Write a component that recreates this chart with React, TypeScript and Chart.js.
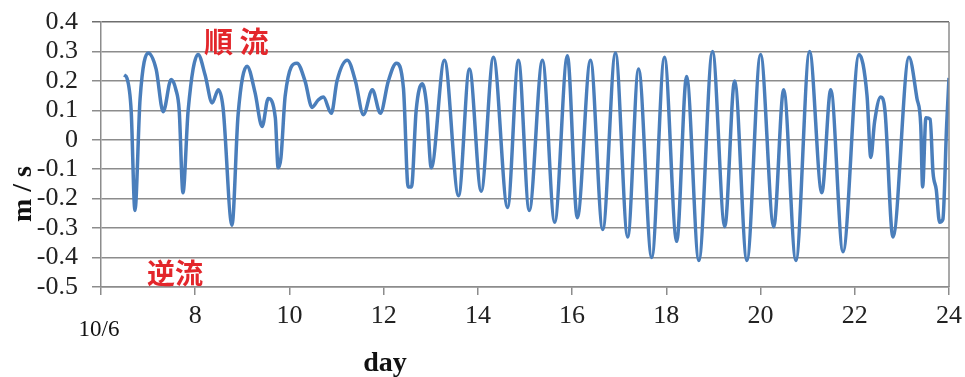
import React, { useEffect, useRef } from "react";
import { Chart, registerables } from "chart.js";

Chart.register(...registerables);

// Day of October (10/6 .. 10/24)
const days: number[] = [
  6.49, 6.55, 6.64, 6.72, 6.83, 7.0, 7.17, 7.32, 7.49, 7.59, 7.66, 7.74, 7.85,
  8.06, 8.21, 8.36, 8.49, 8.59, 8.78, 8.91, 9.1, 9.27, 9.42, 9.55, 9.7, 9.76,
  9.82, 9.91, 10.16, 10.33, 10.48, 10.61, 10.72, 10.89, 11.01, 11.23, 11.4,
  11.57, 11.76, 11.93, 12.1, 12.27, 12.42, 12.52, 12.59, 12.69, 12.82, 12.91,
  13.01, 13.29, 13.59, 13.82, 14.07, 14.33, 14.63, 14.86, 15.09, 15.37, 15.63,
  15.9, 16.11, 16.39, 16.65, 16.92, 17.18, 17.41, 17.69, 17.96, 18.22, 18.43,
  18.69, 18.98, 19.24, 19.45, 19.71, 20.0, 20.28, 20.49, 20.75, 21.04, 21.3,
  21.49, 21.75, 22.09, 22.26, 22.34, 22.42, 22.55, 22.64, 22.81, 23.15, 23.32,
  23.4, 23.44, 23.51, 23.6, 23.66, 23.73, 23.8, 23.87, 23.95, 24.0,
];

// Flow speed (m/s)
const speeds: number[] = [
  0.22, 0.21, 0.1, -0.24, 0.14, 0.295, 0.24, 0.095, 0.205, 0.17, 0.1, -0.18,
  0.1, 0.29, 0.22, 0.125, 0.17, 0.11, -0.29, 0.085, 0.25, 0.16, 0.045, 0.14,
  0.075, -0.095, -0.06, 0.15, 0.26, 0.2, 0.11, 0.135, 0.145, 0.09, 0.2, 0.27,
  0.2, 0.085, 0.17, 0.09, 0.2, 0.26, 0.175, -0.16, -0.16, 0.1, 0.19, 0.12,
  -0.095, 0.27, -0.19, 0.24, -0.175, 0.28, -0.23, 0.27, -0.24, 0.27, -0.28,
  0.285, -0.265, 0.27, -0.305, 0.295, -0.33, 0.24, -0.4, 0.28, -0.345, 0.215,
  -0.41, 0.3, -0.295, 0.2, -0.41, 0.29, -0.295, 0.17, -0.41, 0.3, -0.18, 0.17,
  -0.38, 0.29, 0.15, -0.06, 0.06, 0.145, 0.1, -0.33, 0.28, 0.14, 0.05, -0.16,
  0.075, 0.07, -0.11, -0.17, -0.28, -0.27, 0.05, 0.21,
];

const xTicks: number[] = [6, 8, 10, 12, 14, 16, 18, 20, 22, 24];
const yTicks: number[] = [-0.5, -0.4, -0.3, -0.2, -0.1, 0, 0.1, 0.2, 0.3, 0.4];
const yMin = -0.5;
const yMax = 0.4;

const startLabel = "10/6";
const xTitle = "day";
const yTitle = "m / s";
const forwardLabel = "順 流";
const reverseLabel = "逆流";

const SERIF = '"Liberation Serif", "DejaVu Serif", serif';
const CJK = '"Noto Sans CJK JP", "Noto Sans CJK SC", sans-serif';

export default function App() {
  const ref = useRef<HTMLCanvasElement | null>(null);

  useEffect(() => {
    if (!ref.current) return;
    const textPlugin = {
      id: "texts",
      afterDraw(chart: any) {
        const ctx = chart.ctx;
        const a = chart.chartArea;
        ctx.save();
        // right border
        ctx.strokeStyle = "#8c8c8c";
        ctx.lineWidth = 1.5;
        ctx.beginPath();
        ctx.moveTo(a.right, a.top);
        ctx.lineTo(a.right, a.bottom);
        ctx.stroke();
        // annotations
        ctx.fillStyle = "#e3262b";
        ctx.textAlign = "left";
        ctx.textBaseline = "alphabetic";
        ctx.font = `bold 29px ${CJK}`;
        ctx.fillText(forwardLabel, 204, 53);
        ctx.font = `bold 28px ${CJK}`;
        ctx.fillText(reverseLabel, 147, 284);
        // start label
        ctx.fillStyle = "#111";
        ctx.font = `23px ${SERIF}`;
        ctx.textAlign = "center";
        ctx.fillText(startLabel, 99, 336);
        // axis titles
        ctx.font = `bold 28px ${SERIF}`;
        ctx.fillText(xTitle, 385, 371);
        ctx.translate(31, 194);
        ctx.rotate(-Math.PI / 2);
        ctx.fillText(yTitle, 0, 0);
        ctx.restore();
      },
    };

    const chart = new Chart(ref.current, {
      type: "line",
      data: {
        datasets: [
          {
            data: days.map((d, i) => ({ x: d, y: speeds[i] })),
            borderColor: "#4a7ebb",
            borderWidth: 3.5,
            pointRadius: 0,
            fill: false,
            cubicInterpolationMode: "monotone",
          },
        ],
      },
      options: {
        animation: false,
        responsive: false,
        layout: { padding: { top: 22, right: 16, left: 0, bottom: 0 } },
        plugins: {
          legend: { display: false },
          tooltip: { enabled: false },
        },
        scales: {
          x: {
            type: "linear",
            min: 6,
            max: 24,
            afterBuildTicks: (s: any) => {
              s.ticks = xTicks.map((v) => ({ value: v }));
            },
            afterFit: (s: any) => {
              s.height = 90;
              s.paddingLeft = 0;
              s.paddingRight = 0;
            },
            grid: {
              drawOnChartArea: false,
              drawTicks: true,
              tickLength: 8,
              color: "#8c8c8c",
              lineWidth: 1.5,
            },
            border: { display: true, color: "#8c8c8c", width: 1.5 },
            ticks: {
              padding: 6,
              color: "#222",
              font: { family: SERIF, size: 26 },
              maxRotation: 0,
              autoSkip: false,
              callback: (v: any) => (v === 6 ? "" : String(v)),
            },
          },
          y: {
            type: "linear",
            min: yMin,
            max: yMax,
            afterBuildTicks: (s: any) => {
              s.ticks = yTicks.map((v) => ({ value: v }));
            },
            afterFit: (s: any) => {
              s.width = 101;
              s.paddingTop = 0;
              s.paddingBottom = 0;
            },
            grid: {
              color: (c: any) =>
                c.tick && Math.abs(c.tick.value - yMax) < 1e-6 ? "#6e6e6e" : "#8c8c8c",
              lineWidth: 1.5,
              drawTicks: true,
              tickLength: 9,
            },
            border: { display: true, color: "#8c8c8c", width: 1.5 },
            ticks: {
              autoSkip: false,
              padding: 14,
              color: "#222",
              font: { family: SERIF, size: 26 },
              callback: (v: any) => {
                const r = Math.round(Number(v) * 10) / 10;
                return r === 0 ? "0" : r.toFixed(1);
              },
            },
          },
        },
      },
      plugins: [textPlugin],
    } as any);
    return () => chart.destroy();
  }, []);

  return (
    <div style={{ position: "absolute", left: 0, top: 0, width: 965, height: 377, background: "#fff" }}>
      <canvas ref={ref} width={965} height={377} />
    </div>
  );
}
